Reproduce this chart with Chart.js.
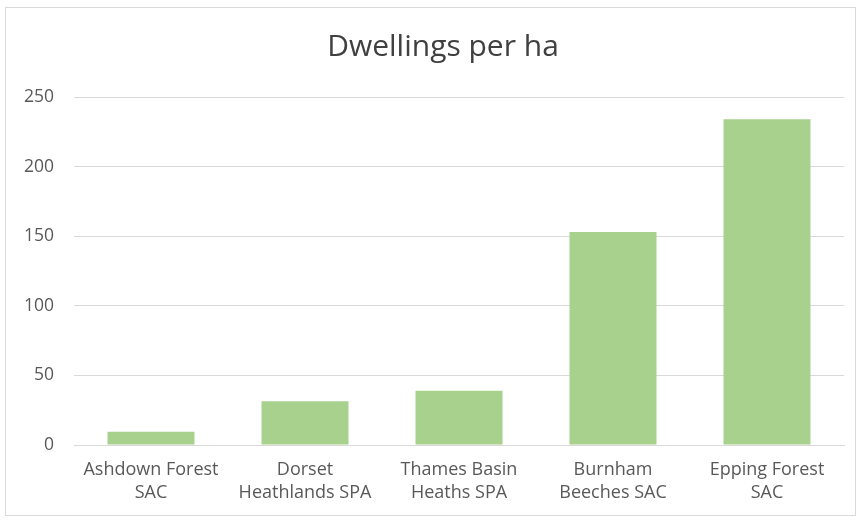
<!DOCTYPE html>
<html>
<head>
<meta charset="utf-8">
<script src="https://cdn.jsdelivr.net/npm/chart.js@4/dist/chart.umd.min.js"></script>
<style>
  body { margin: 0; background: #fff; }
  #frame { position: absolute; left: 5px; top: 7px; width: 849px; height: 507px; border: 1px solid #d9d9d9; }
  #wrap { position: absolute; left: 0; top: 0; width: 861px; height: 522px; }
</style>
</head>
<body>
<div id="frame"></div>
<div id="wrap"><canvas id="myChart" width="861" height="522"></canvas></div>
<script>
const chartTitle = 'Dwellings per ha';
const categories = [
    ['Ashdown Forest', 'SAC'],
    ['Dorset', 'Heathlands SPA'],
    ['Thames Basin', 'Heaths SPA'],
    ['Burnham', 'Beeches SAC'],
    ['Epping Forest', 'SAC']
];
const dwellings = [9.5, 31.5, 39, 153, 234];
const yTicks = [0, 50, 100, 150, 200, 250];

const fontFamily = '"Open Sans", "Noto Sans", sans-serif';

// title sits a bit right of the plot centre, like the original
const titlePlugin = {
    id: 'offsetTitle',
    afterDraw(chart) {
        const c = chart.ctx;
        c.save();
        c.font = '30px ' + fontFamily;
        c.fillStyle = '#404040';
        c.textAlign = 'center';
        c.textBaseline = 'middle';
        c.fillText(chartTitle, 443, 47);
        c.restore();
    }
};

const ctx = document.getElementById('myChart');
const myChart = new Chart(ctx, {
    type: 'bar',
    data: {
        labels: categories,
        datasets: [{
            label: chartTitle,
            data: dwellings,
            backgroundColor: '#a9d18e',
            borderWidth: 0,
            categoryPercentage: 0.565,
            barPercentage: 1
        }]
    },
    options: {
        responsive: false,
        animation: false,
        layout: { padding: { left: 0, right: 17, top: 97, bottom: 0 } },
        plugins: {
            legend: { display: false },
            tooltip: { enabled: false },
            title: { display: false }
        },
        scales: {
            x: {
                grid: { display: false, drawTicks: false },
                border: { color: '#d9d9d9' },
                ticks: {
                    color: '#595959',
                    font: { family: fontFamily, size: 18, lineHeight: 1.28 },
                    padding: 13,
                    maxRotation: 0,
                    autoSkip: false
                },
                afterFit: function(scale) { scale.height = 77; }
            },
            y: {
                min: 0,
                max: 250,
                afterBuildTicks: function(scale) {
                    scale.ticks = yTicks.map(v => ({ value: v }));
                },
                grid: { color: '#d9d9d9', drawTicks: false },
                border: { display: false },
                ticks: {
                    color: '#595959',
                    font: { family: fontFamily, size: 17.5 },
                    padding: 20
                },
                afterFit: function(scale) { scale.width = 74; }
            }
        }
    },
    plugins: [titlePlugin]
});
</script>
</body>
</html>
